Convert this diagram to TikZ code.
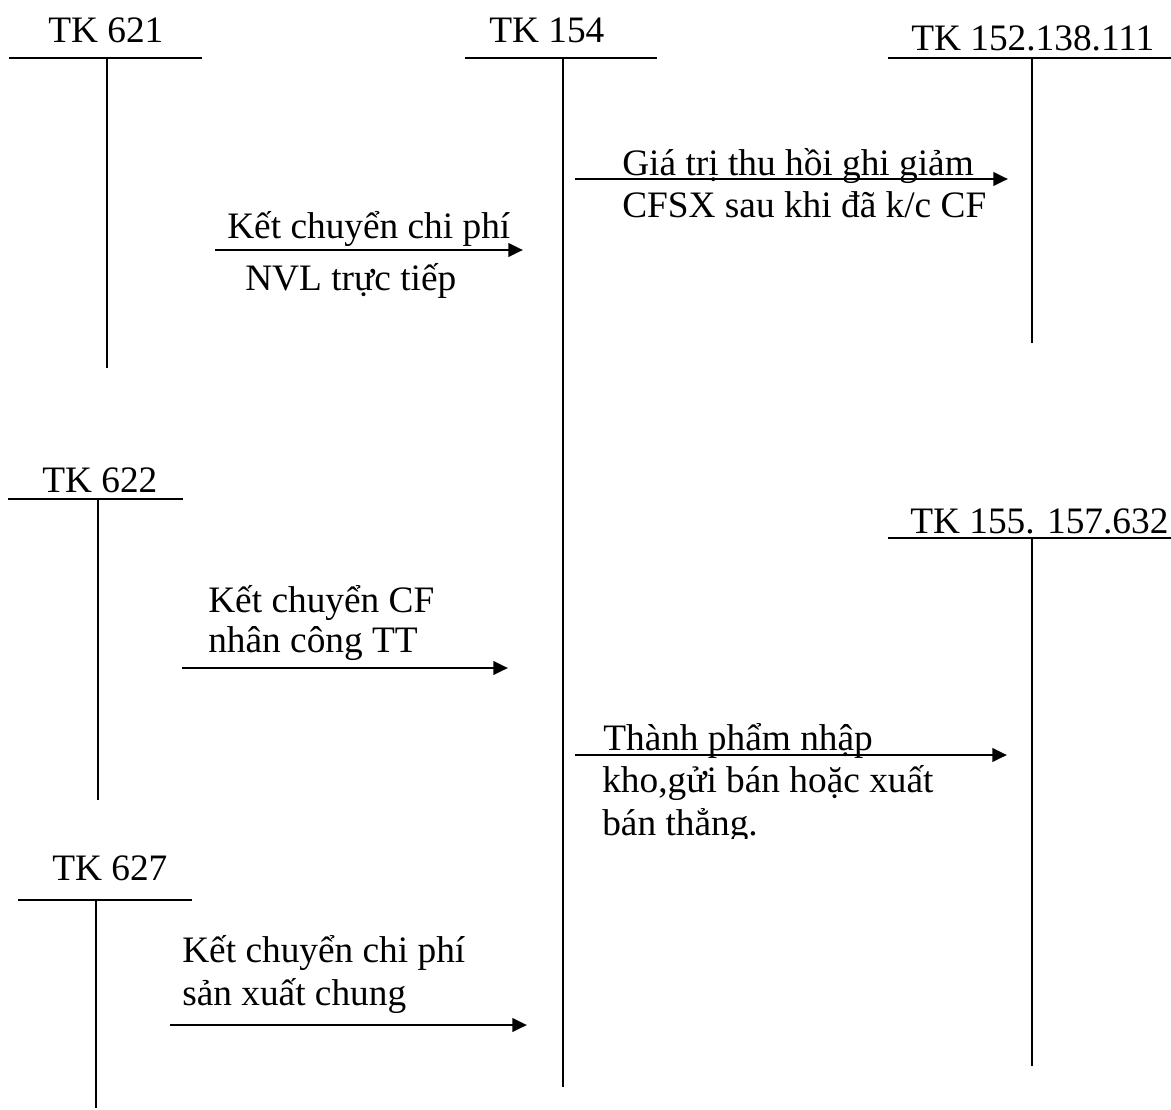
\documentclass[tikz,border=0pt]{standalone}
\usepackage{fontspec}
\setmainfont{Liberation Serif}
\usetikzlibrary{arrows.meta}
\begin{document}
\begin{tikzpicture}[x=0.75pt,y=-0.75pt,
  lbl/.style={inner sep=0pt, anchor=base west, font=\fontsize{28}{31.5}\selectfont},
  tline/.style={line width=1.5pt},
  flow/.style={line width=2.2pt, -{Triangle[length=11pt,width=10pt]}}]
\useasboundingbox (0,0) rectangle (1171,1110);

% ---- T-accounts: title, top rule, vertical stem ----
\node[lbl] (t621) at (48,42) {TK 621};
\coordinate (r621a) at (9,58);   \coordinate (r621b) at (202,58);
\coordinate (s621a) at (107,58); \coordinate (s621b) at (107,368);

\node[lbl] (t154) at (489,42) {TK 154};
\coordinate (r154a) at (465,58); \coordinate (r154b) at (657,58);
\coordinate (s154a) at (563,58); \coordinate (s154b) at (563,1087);

\node[lbl] (t152) at (911,50) {TK 152.138.111};
\coordinate (r152a) at (888,58);  \coordinate (r152b) at (1171,58);
\coordinate (s152a) at (1032,58); \coordinate (s152b) at (1032,343);

\node[lbl] (t622) at (42,492) {TK 622};
\coordinate (r622a) at (8,499);  \coordinate (r622b) at (183,499);
\coordinate (s622a) at (98,499); \coordinate (s622b) at (98,800);

\node[lbl] (t155) at (910,533) {TK 155. 157.632};
\coordinate (r155a) at (888,538);  \coordinate (r155b) at (1171,538);
\coordinate (s155a) at (1032,538); \coordinate (s155b) at (1032,1066);

\node[lbl] (t627) at (52,880) {TK 627};
\coordinate (r627a) at (18,900); \coordinate (r627b) at (192,900);
\coordinate (s627a) at (96,900); \coordinate (s627b) at (96,1108);

\foreach \k in {621,154,152,622,155,627}{
  \draw[tline] (r\k a) -- (r\k b);
  \draw[tline] (s\k a) -- (s\k b);
}

% ---- transfers into TK 154 ----
\coordinate (f1a) at (215,250); \coordinate (f1b) at (523,250);
\draw[flow] (f1a) -- (f1b);
\node[lbl] (f1t1) at (227,238) {Kết chuyển chi phí};
\node[lbl] (f1t2) at (245,290) {NVL trực tiếp};

\coordinate (f2a) at (182,668); \coordinate (f2b) at (508,668);
\draw[flow] (f2a) -- (f2b);
\node[lbl] (f2t1) at (208,612) {Kết chuyển CF};
\node[lbl] (f2t2) at (208,652) {nhân công TT};

\coordinate (f3a) at (170,1025); \coordinate (f3b) at (527,1025);
\draw[flow] (f3a) -- (f3b);
\node[lbl] (f3t1) at (182,962) {Kết chuyển chi phí};
\node[lbl] (f3t2) at (182,1005) {sản xuất chung};

% ---- transfers out of TK 154 ----
\coordinate (f4a) at (575,179); \coordinate (f4b) at (1008,179);
\draw[flow] (f4a) -- (f4b);
\node[lbl] (f4t1) at (622,175) {Giá trị thu hồi ghi giảm};
\node[lbl] (f4t2) at (622,217) {CFSX sau khi đã k/c CF};

\coordinate (f5a) at (575,755); \coordinate (f5b) at (1007,755);
\draw[flow] (f5a) -- (f5b);
\node[lbl] (f5t1) at (603,750) {Thành phẩm nhập};
\node[lbl] (f5t2) at (602,792) {kho,gửi bán hoặc xuất};
\begin{scope}
  \clip (570,795) rectangle (1000,838);
  \node[lbl] (f5t3) at (602,835) {bán thẳng.};
\end{scope}
\end{tikzpicture}
\end{document}
